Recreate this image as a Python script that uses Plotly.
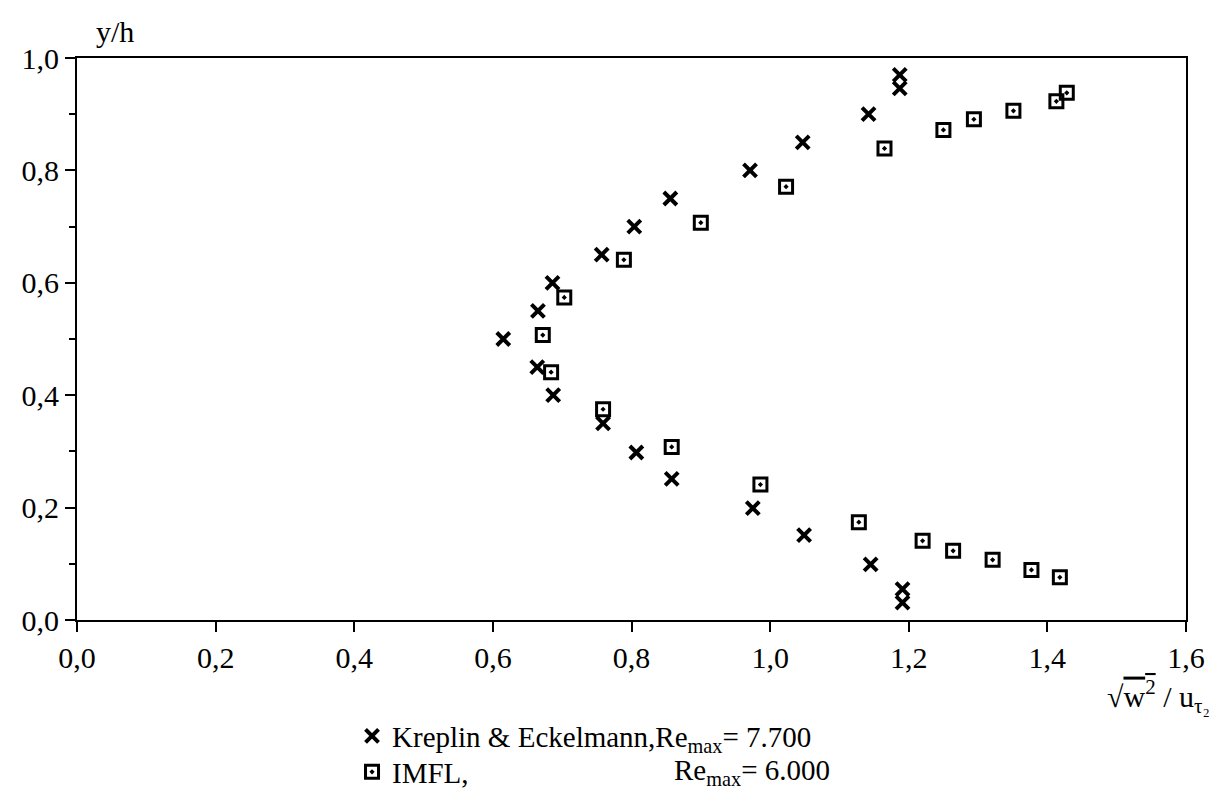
import plotly.graph_objects as go

# Kreplin & Eckelmann, Re_max = 7.700
kr_x = [0.615, 0.665, 0.686, 0.757, 0.804, 0.856, 0.971, 1.047, 1.142, 1.187, 1.187,
        0.664, 0.687, 0.759, 0.807, 0.858, 0.975, 1.049, 1.145, 1.191, 1.191]
kr_y = [0.50, 0.55, 0.60, 0.65, 0.70, 0.75, 0.80, 0.85, 0.90, 0.946, 0.97,
        0.45, 0.40, 0.35, 0.298, 0.251, 0.199, 0.151, 0.099, 0.055, 0.031]

# IMFL, Re_max = 6.000
im_x = [0.672, 0.684, 0.703, 0.759, 0.789, 0.900, 0.858, 0.986, 1.128, 1.023, 1.165,
        1.250, 1.294, 1.351, 1.413, 1.428, 1.220, 1.264, 1.321, 1.377, 1.418]
im_y = [0.507, 0.441, 0.574, 0.375, 0.641, 0.707, 0.308, 0.241, 0.174, 0.771, 0.839,
        0.872, 0.891, 0.906, 0.923, 0.938, 0.141, 0.123, 0.107, 0.089, 0.076]

x_ticks = [0.0, 0.2, 0.4, 0.6, 0.8, 1.0, 1.2, 1.4, 1.6]
y_ticks = [0.0, 0.2, 0.4, 0.6, 0.8, 1.0]

FONT = "Liberation Serif"
FS = 30
TXT = dict(family=FONT, size=FS, color="black")
LEG = dict(family=FONT, size=29, color="black")

fig = go.Figure()
fig.add_trace(go.Scatter(
    x=kr_x, y=kr_y, mode="markers",
    name="Kreplin & Eckelmann,Re<sub>max</sub>= 7.700",
    legend="legend",
    marker=dict(symbol="x-thin", size=13, color="black",
                line=dict(width=4, color="black")),
))
fig.add_trace(go.Scatter(
    x=im_x, y=im_y, mode="markers",
    name="IMFL,",
    legend="legend2",
    marker=dict(symbol="square-open-dot", size=13, color="black",
                line=dict(width=3, color="black")),
))

axis_common = dict(
    showgrid=False, zeroline=False, showline=True, linecolor="black",
    linewidth=2, mirror=True, ticks="outside", tickcolor="black",
    tickwidth=2, tickformat=".1f", tickfont=TXT,
)
fig.update_xaxes(range=[0, 1.6], tickvals=x_ticks, ticklen=10, **axis_common)
fig.update_yaxes(range=[0, 1.0], tickvals=y_ticks, ticklen=10,
                 minor=dict(dtick=0.1, ticks="outside", ticklen=6,
                            tickcolor="black", tickwidth=2),
                 **axis_common)

fig.add_annotation(text="y/h", xref="paper", yref="paper", x=0.034, y=1.048,
                   xanchor="center", yanchor="middle", showarrow=False, font=TXT)
fig.add_annotation(
    text="√<span style='text-decoration:overline'>w<sup>2</sup></span> / u<sub>τ₂</sub>",
    xref="paper", yref="paper", x=0.975, y=-0.137,
    xanchor="center", yanchor="middle", showarrow=False, font=TXT)
fig.add_annotation(text="Re<sub>max</sub>= 6.000", xref="paper", yref="paper",
                   x=0.5365, y=-0.2705, xanchor="left", yanchor="middle",
                   showarrow=False, font=LEG)

fig.update_layout(
    width=1210, height=793,
    margin=dict(l=77, r=24, t=58, b=173, autoexpand=False),
    plot_bgcolor="white", paper_bgcolor="white",
    separators=",.",
    font=TXT,
    showlegend=True,
    legend=dict(x=0.248, y=-0.2064, xanchor="left", yanchor="middle",
                bgcolor="rgba(0,0,0,0)", font=LEG),
    legend2=dict(x=0.248, y=-0.2705, xanchor="left", yanchor="middle",
                 bgcolor="rgba(0,0,0,0)", font=LEG),
)

fig.write_html("out.html")
